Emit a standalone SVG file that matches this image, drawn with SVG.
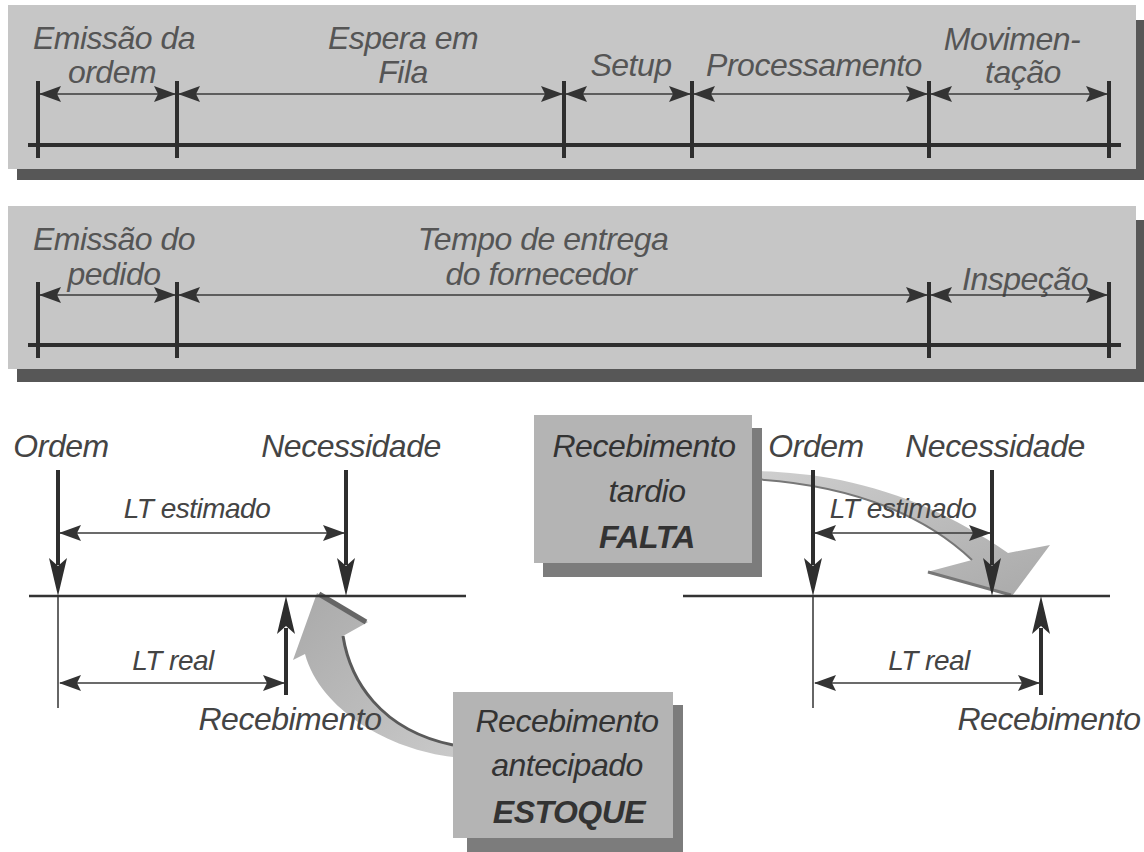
<svg xmlns="http://www.w3.org/2000/svg" width="1144" height="852" viewBox="0 0 1144 852">
<defs>
<marker id="ah" markerUnits="userSpaceOnUse" markerWidth="22" markerHeight="16" refX="21" refY="8" orient="auto-start-reverse"><path d="M0,0 L22,8 L0,16 L4,8 Z" fill="#333"/></marker>
<linearGradient id="gEst" x1="0" y1="0" x2="1" y2="1"><stop offset="0" stop-color="#a9a9a9"/><stop offset="1" stop-color="#c9c9c9"/></linearGradient>
<linearGradient id="gFal" x1="0" y1="0" x2="1" y2="1"><stop offset="0" stop-color="#cfcfcf"/><stop offset="1" stop-color="#a9a9a9"/></linearGradient>
</defs>
<style>
.panel{fill:#c6c6c6}
.pshadow{fill:#575757}
.box{fill:#b4b4b4}
.bshadow{fill:#7c7c7c}
.tick{stroke:#2e2e2e;stroke-width:4}
.bar{stroke:#2e2e2e;stroke-width:4}
.base{stroke:#333;stroke-width:2.5}
.thin{stroke:#333;stroke-width:1.5}
.shaft{stroke:#2e2e2e;stroke-width:4}
.head{fill:#2e2e2e}
.dim{stroke:#3a3a3a;stroke-width:1.3;fill:none;marker-start:url(#ah);marker-end:url(#ah)}
.t{font-family:"Liberation Sans",Arial,sans-serif;font-style:italic;font-size:32px;fill:#555;text-anchor:middle;letter-spacing:-0.5px}
.tb{font-family:"Liberation Sans",Arial,sans-serif;font-style:italic;font-size:32px;fill:#444;text-anchor:middle;letter-spacing:-0.5px}
.tl{font-family:"Liberation Sans",Arial,sans-serif;font-style:italic;font-size:28px;fill:#444;text-anchor:middle;letter-spacing:-0.5px}
.tx{font-family:"Liberation Sans",Arial,sans-serif;font-style:italic;font-size:32px;fill:#333;text-anchor:middle;letter-spacing:-0.5px}
.bold{font-weight:bold}
</style>

<g id="panel-ordem-fabricacao">
<rect class="pshadow" x="17" y="20" width="1127" height="160"/>
<rect class="panel" x="8" y="5" width="1128" height="164"/>
<line class="bar" x1="28" y1="145" x2="1121" y2="145"/>
<line class="tick" x1="38" y1="81" x2="38" y2="158"/>
<line class="tick" x1="177" y1="81" x2="177" y2="158"/>
<line class="tick" x1="564" y1="81" x2="564" y2="158"/>
<line class="tick" x1="692" y1="81" x2="692" y2="158"/>
<line class="tick" x1="929" y1="81" x2="929" y2="158"/>
<line class="tick" x1="1109" y1="81" x2="1109" y2="158"/>
<text class="t" x="114" y="49">Emissão da</text>
<text class="t" x="112" y="83">ordem</text>
<text class="t" x="403" y="49">Espera em</text>
<text class="t" x="403" y="83">Fila</text>
<text class="t" x="631" y="76">Setup</text>
<text class="t" x="814" y="76">Processamento</text>
<text class="t" x="1012" y="50">Movimen-</text>
<text class="t" x="1023" y="83">tação</text>
</g>

<g id="panel-pedido-compra">
<rect class="pshadow" x="17" y="220" width="1127" height="162"/>
<rect class="panel" x="8" y="206" width="1128" height="163"/>
<line class="bar" x1="28" y1="345" x2="1121" y2="345"/>
<line class="tick" x1="38" y1="282" x2="38" y2="358"/>
<line class="tick" x1="177" y1="282" x2="177" y2="358"/>
<line class="tick" x1="929" y1="282" x2="929" y2="358"/>
<line class="tick" x1="1109" y1="282" x2="1109" y2="358"/>
<text class="t" x="114" y="250">Emissão do</text>
<text class="t" x="114" y="285">pedido</text>
<text class="t" x="543" y="250">Tempo de entrega</text>
<text class="t" x="541" y="285">do fornecedor</text>
<text class="t" x="1025" y="290">Inspeção</text>
</g>

<g id="curved-arrows">
<g id="arrow-antecipado">
<path d="M317,593 L368,622 L343,636 C350,680 380,730 453,745 L453,757 C390,750 320,710 305,654 L293,660 Z" fill="url(#gEst)"/>
<path d="M343,636 C350,680 380,730 453,745" fill="none" stroke="#5a5a5a" stroke-width="3"/>
<path d="M319,594 L366,622" fill="none" stroke="#666" stroke-width="5"/>
</g>
<g id="arrow-tardio">
<path d="M752,471 C820,472 910,485 1008,553 L1050,545 L1012,596 L927,572 L972,560 C930,520 860,485 752,479 Z" fill="url(#gFal)"/>
<path d="M752,479 C860,485 930,520 972,560" fill="none" stroke="#777" stroke-width="2"/>
<path d="M928,572 L1011,595" fill="none" stroke="#777" stroke-width="3"/>
</g>
</g>

<g id="diagram-antecipado">
<line class="base" x1="29" y1="596" x2="466" y2="596"/>
<line class="thin" x1="58" y1="596" x2="58" y2="708"/>
<line class="shaft" x1="58" y1="470" x2="58" y2="565"/>
<path class="head" d="M49,558 L58,596 L67,558 L58,566 Z"/>
<line class="shaft" x1="346" y1="470" x2="346" y2="565"/>
<path class="head" d="M337,558 L346,596 L355,558 L346,566 Z"/>
<line class="shaft" x1="286" y1="695" x2="286" y2="628"/>
<path class="head" d="M277,634 L286,596 L295,634 L286,626 Z"/>
<text class="tb" x="61" y="457">Ordem</text>
<text class="tb" x="351" y="457">Necessidade</text>
<text class="tl" x="197" y="518">LT estimado</text>
<text class="tl" x="173" y="670">LT real</text>
<text class="tb" x="290" y="730">Recebimento</text>
</g>

<g id="diagram-tardio">
<line class="base" x1="683" y1="596" x2="1110" y2="596"/>
<line class="thin" x1="813" y1="596" x2="813" y2="708"/>
<line class="shaft" x1="813" y1="470" x2="813" y2="565"/>
<path class="head" d="M804,558 L813,596 L822,558 L813,566 Z"/>
<line class="shaft" x1="992" y1="470" x2="992" y2="565"/>
<path class="head" d="M983,558 L992,596 L1001,558 L992,566 Z"/>
<line class="shaft" x1="1041" y1="695" x2="1041" y2="628"/>
<path class="head" d="M1032,634 L1041,596 L1050,634 L1041,626 Z"/>
<text class="tb" x="816" y="457">Ordem</text>
<text class="tb" x="995" y="457">Necessidade</text>
<text class="tl" x="903" y="518">LT estimado</text>
<text class="tl" x="929" y="670">LT real</text>
<text class="tb" x="1049" y="730">Recebimento</text>
</g>

<g id="connectors">
<line class="dim" x1="40" y1="94" x2="175" y2="94"/>
<line class="dim" x1="179" y1="94" x2="562" y2="94"/>
<line class="dim" x1="566" y1="94" x2="690" y2="94"/>
<line class="dim" x1="694" y1="94" x2="927" y2="94"/>
<line class="dim" x1="931" y1="94" x2="1107" y2="94"/>
<line class="dim" x1="40" y1="295" x2="175" y2="295"/>
<line class="dim" x1="179" y1="295" x2="927" y2="295"/>
<line class="dim" x1="931" y1="295" x2="1107" y2="295"/>
<line class="dim" x1="60" y1="533" x2="344" y2="533"/>
<line class="dim" x1="60" y1="683" x2="284" y2="683"/>
<line class="dim" x1="815" y1="533" x2="990" y2="533"/>
<line class="dim" x1="815" y1="683" x2="1039" y2="683"/>
</g>

<g id="box-falta">
<rect class="bshadow" x="543" y="428" width="219" height="149"/>
<rect class="box" x="534" y="415" width="218" height="148"/>
<text class="tx" x="644" y="457">Recebimento</text>
<text class="tx" x="647" y="502">tardio</text>
<text class="tx bold" x="647" y="548">FALTA</text>
</g>

<g id="box-estoque">
<rect class="bshadow" x="467" y="705" width="216" height="147"/>
<rect class="box" x="453" y="692" width="220" height="146"/>
<text class="tx" x="567" y="732">Recebimento</text>
<text class="tx" x="567" y="776">antecipado</text>
<text class="tx bold" x="569" y="823">ESTOQUE</text>
</g>
</svg>
